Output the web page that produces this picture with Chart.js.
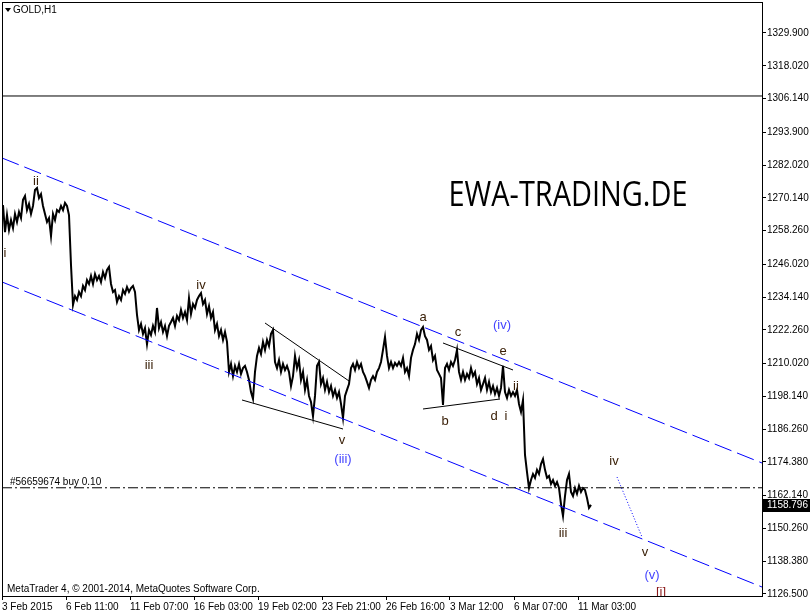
<!DOCTYPE html>
<html>
<head>
<meta charset="utf-8">
<title>GOLD,H1</title>
<script src="https://cdn.jsdelivr.net/npm/chart.js@4.4.1/dist/chart.umd.min.js"></script>
<style>
  html, body { margin: 0; padding: 0; background: #fff; }
  canvas { display: block; }
</style>
</head>
<body>
<canvas id="goldChart" width="810" height="616"></canvas>
<script>
// H1 closes, one value every 2 bars (bar 1, 3, 5, ...)
const closes = [
  1267.5, 1257.7, 1263.9, 1258.5, 1262.1, 1259.2, 1264.3, 1261.4, 1265.0, 1262.8,
  1269.4, 1270.8, 1265.7, 1267.9, 1264.3, 1267.2, 1273.0, 1273.7, 1270.1, 1271.5,
  1267.2, 1264.3, 1261.4, 1262.8, 1256.3, 1264.3, 1262.1, 1265.7, 1265.0, 1267.2,
  1265.7, 1268.3, 1267.2, 1263.9, 1245.8, 1231.3, 1234.5, 1233.1, 1236.0, 1234.5,
  1238.2, 1236.7, 1240.3, 1238.9, 1241.8, 1238.9, 1242.5, 1240.3, 1241.8, 1239.6,
  1243.2, 1241.1, 1244.0, 1245.1, 1238.9, 1236.0, 1236.7, 1232.4, 1234.5, 1233.1,
  1236.7, 1235.3, 1237.8, 1236.0, 1237.4, 1238.2, 1236.0, 1227.7, 1222.2, 1224.4,
  1220.8, 1222.9, 1217.1, 1222.2, 1220.4, 1223.7, 1221.5, 1230.2, 1222.9, 1225.1,
  1221.5, 1223.7, 1220.0, 1223.7, 1225.1, 1226.6, 1223.7, 1227.3, 1225.8, 1229.5,
  1226.6, 1228.7, 1225.8, 1233.8, 1228.0, 1231.6, 1230.2, 1233.1, 1234.5, 1235.6,
  1231.6, 1233.1, 1228.0, 1230.9, 1226.6, 1228.7, 1222.2, 1224.4, 1220.0, 1222.2,
  1218.6, 1221.5, 1217.9, 1207.0, 1209.9, 1205.5, 1209.2, 1207.0, 1209.9, 1206.3,
  1208.4, 1209.2, 1207.0, 1204.1, 1199.7, 1197.2, 1207.0, 1212.8, 1215.7, 1213.5,
  1217.9, 1215.0, 1218.6, 1216.4, 1220.8, 1222.2, 1210.6, 1208.4, 1211.3, 1207.0,
  1209.9, 1207.7, 1209.2, 1207.0, 1201.9, 1205.5, 1212.8, 1208.4, 1211.3, 1204.1,
  1207.0, 1200.5, 1204.1, 1198.3, 1196.1, 1191.0, 1198.3, 1209.2, 1210.6, 1202.6,
  1204.8, 1200.5, 1203.4, 1199.7, 1201.9, 1198.3, 1200.5, 1197.6, 1199.7, 1195.4,
  1190.3, 1198.3, 1200.5, 1202.6, 1208.4, 1209.9, 1207.7, 1210.6, 1208.4, 1209.9,
  1207.0, 1205.5, 1203.4, 1201.2, 1204.1, 1205.5, 1204.1, 1207.0, 1208.4, 1210.6,
  1215.0, 1219.7, 1212.8, 1208.4, 1210.6, 1208.4, 1210.3, 1209.2, 1210.6, 1209.2,
  1212.1, 1207.0, 1208.4, 1205.5, 1212.1, 1215.0, 1217.1, 1220.8, 1218.6, 1222.2,
  1223.3, 1220.0, 1218.6, 1215.0, 1216.4, 1211.3, 1212.8, 1207.7, 1206.3, 1204.8,
  1195.0, 1208.4, 1209.9, 1207.7, 1210.6, 1209.2, 1211.3, 1215.0, 1207.0, 1204.1,
  1207.0, 1204.1, 1206.3, 1204.8, 1208.4, 1205.5, 1207.0, 1202.6, 1204.8, 1200.5,
  1202.6, 1204.8, 1200.5, 1203.4, 1199.7, 1201.9, 1199.0, 1201.2, 1198.3, 1201.2,
  1209.2, 1199.7, 1197.6, 1200.5, 1198.3, 1199.7, 1198.3, 1200.5, 1195.4, 1192.5,
  1196.8, 1176.9, 1170.7, 1164.9, 1167.8, 1170.0, 1168.6, 1171.5, 1170.0, 1173.6,
  1175.4, 1171.5, 1168.6, 1169.3, 1166.4, 1167.8, 1165.7, 1167.1, 1164.9, 1159.1,
  1154.8, 1162.0, 1167.8, 1170.0, 1163.5, 1162.0, 1164.9, 1162.8, 1165.7, 1163.5,
  1164.9, 1164.2, 1161.3, 1157.7, 1158.796
];

const timeTickBars = [0, 64, 128, 192, 256, 320, 384, 448, 512, 576];
const timeLabels = [
  "3 Feb 2015", "6 Feb 11:00", "11 Feb 07:00", "16 Feb 03:00", "19 Feb 02:00",
  "23 Feb 21:00", "26 Feb 16:00", "3 Mar 12:00", "6 Mar 07:00", "11 Mar 03:00"
];
const priceTicks = [
  1329.9, 1318.02, 1306.14, 1293.9, 1282.02, 1270.14, 1258.26, 1246.02, 1234.14,
  1222.26, 1210.02, 1198.14, 1186.26, 1174.38, 1162.14, 1150.26, 1138.38, 1126.5
];

// drawn objects, as [bar, price] pairs
const channelUpper = [[0, 1284.58], [760, 1173.99]];
const channelLower = [[0, 1239.62], [760, 1129.02]];
const wedgeUpper = [[263, 1224.75], [347, 1203.72]];
const wedgeLower = [[240, 1196.83], [341, 1186.31]];
const triangleUpper = [[441, 1217.5], [511, 1207.71]];
const triangleLower = [[421, 1193.57], [498, 1197.19]];
const projection = [[615, 1168.91], [640, 1147.15]];
const topLine = [[0, 1307.06], [760, 1307.06]];
const orderLine = [[0, 1165.0], [760, 1165.0]];
const orderText = "#56659674 buy 0.10";

// wave labels: [text, bar, price]
const minorLabels = [
  ["ii", 34, 1276.2], ["i", 3, 1250.1], ["iv", 199, 1238.5], ["iii", 147, 1209.2],
  ["v", 340, 1182.3], ["a", 421, 1226.6], ["c", 456, 1221.5], ["e", 501, 1214.6],
  ["ii", 514, 1201.9], ["b", 443, 1188.9], ["d", 492, 1190.7], ["i", 504, 1190.7],
  ["iii", 561, 1148.6], ["iv", 612, 1174.4], ["v", 643, 1141.4]
];
const intermediateLabels = [
  ["(ii)", -6, 1288.2], ["(iii)", 341, 1175.4], ["(iv)", 500, 1223.7], ["(v)", 650, 1133.4]
];
const primaryLabels = [["[i]", 659, 1126.9]];
const watermark = ["EWA-TRADING.DE", 566, 1270.8];

const lastPrice = closes[closes.length - 1];

function toPoints(pairs) {
  return pairs.map((p) => ({ x: p[0], y: p[1] }));
}

function lineSet(pairs, color, dash, width) {
  return {
    data: toPoints(pairs),
    borderColor: color,
    borderWidth: width || 1,
    borderDash: dash || [],
    pointRadius: 0,
    tension: 0,
    fill: false,
  };
}

const overlayPlugin = {
  id: "overlay",
  afterDatasetsDraw(chart) {
    const { ctx, chartArea: area, scales } = chart;
    const xs = scales.x;
    const ys = scales.y;
    ctx.save();
    ctx.beginPath();
    ctx.rect(area.left, area.top, area.right - area.left, area.bottom - area.top);
    ctx.clip();
    ctx.textAlign = "center";
    ctx.textBaseline = "middle";
    ctx.font = "13px 'Liberation Sans', Arial, sans-serif";

    const drawLabels = (list, color) => {
      ctx.fillStyle = color;
      list.forEach((l) => {
        ctx.fillText(l[0], xs.getPixelForValue(l[1]), ys.getPixelForValue(l[2]));
      });
    };
    drawLabels(minorLabels, "#3a2008");
    drawLabels(intermediateLabels, "#4444ff");
    drawLabels(primaryLabels, "#8b1a1a");

    // big text
    ctx.font = "34px 'Open Sans', sans-serif";
    const wx = xs.getPixelForValue(watermark[1]);
    const wy = ys.getPixelForValue(watermark[2]);
    const w = ctx.measureText(watermark[0]).width;
    ctx.save();
    ctx.translate(wx, wy);
    ctx.scale(239 / w, 1);
    ctx.fillStyle = "#000";
    ctx.fillText(watermark[0], 0, 0);
    ctx.restore();

    // order line caption
    ctx.font = "10px 'Liberation Sans', Arial, sans-serif";
    ctx.textAlign = "left";
    ctx.textBaseline = "bottom";
    ctx.fillStyle = "#000";
    ctx.fillText(orderText, area.left + 8, ys.getPixelForValue(orderLine[0][1]) - 1);
    ctx.restore();
  },
  afterDraw(chart) {
    const { ctx, chartArea: area, scales } = chart;
    ctx.save();
    ctx.strokeStyle = "#000";
    ctx.lineWidth = 1;
    ctx.strokeRect(area.left + 0.5, area.top + 0.5, area.right - area.left, area.bottom - area.top);

    // header
    ctx.fillStyle = "#000";
    ctx.beginPath();
    ctx.moveTo(area.left + 3, area.top + 6);
    ctx.lineTo(area.left + 9, area.top + 6);
    ctx.lineTo(area.left + 6, area.top + 10);
    ctx.closePath();
    ctx.fill();
    ctx.font = "10px 'Liberation Sans', Arial, sans-serif";
    ctx.textBaseline = "middle";
    ctx.textAlign = "left";
    ctx.fillText("GOLD,H1", area.left + 11, area.top + 8);

    ctx.fillText("MetaTrader 4, \u00a9 2001-2014, MetaQuotes Software Corp.", area.left + 5, area.bottom - 7);

    // current price box
    const py = Math.round(scales.y.getPixelForValue(lastPrice));
    ctx.fillRect(area.right + 1, py - 6, 47, 13);
    ctx.fillStyle = "#fff";
    ctx.fillText(lastPrice.toFixed(3), area.right + 5, py + 0.5);
    ctx.restore();
  },
};

const axisFont = { family: "'Liberation Sans', Arial, sans-serif", size: 10 };

new Chart(document.getElementById("goldChart"), {
  type: "line",
  data: {
    datasets: [
      lineSet(topLine, "#000"),
      lineSet(orderLine, "#000", [10, 3, 2, 3]),
      lineSet(channelUpper, "#0000ff", [18, 6]),
      lineSet(channelLower, "#0000ff", [18, 6]),
      lineSet(projection, "#0000ff", [1, 2]),
      lineSet(wedgeUpper, "#000"),
      lineSet(wedgeLower, "#000"),
      lineSet(triangleUpper, "#000"),
      lineSet(triangleLower, "#000"),
      {
        data: closes.map((v, i) => ({ x: 1 + 2 * i, y: v })),
        borderColor: "#000",
        borderWidth: 2,
        pointRadius: 0,
        tension: 0,
        fill: false,
      },
    ],
  },
  options: {
    responsive: false,
    animation: false,
    layout: { padding: { left: 2, top: 2, right: 0, bottom: 0 } },
    plugins: {
      legend: { display: false },
      tooltip: { enabled: false },
    },
    scales: {
      x: {
        type: "linear",
        min: 0,
        max: 760,
        grid: { drawOnChartArea: false, drawTicks: true, tickLength: 4, color: "#000" },
        border: { display: true, color: "#000" },
        afterBuildTicks: (scale) => {
          scale.ticks = timeTickBars.map((v) => ({ value: v }));
        },
        afterFit: (scale) => {
          scale.height = 20;
          scale.paddingLeft = 0;
          scale.paddingRight = 0;
        },
        ticks: {
          autoSkip: false,
          maxRotation: 0,
          align: "start",
          padding: 1,
          color: "#000",
          font: axisFont,
          callback: (v, i) => timeLabels[i],
        },
      },
      y: {
        type: "linear",
        position: "right",
        min: 1125.76,
        max: 1341.14,
        grid: { drawOnChartArea: false, drawTicks: true, tickLength: 4, color: "#000" },
        border: { display: true, color: "#000" },
        afterBuildTicks: (scale) => {
          scale.ticks = priceTicks.map((v) => ({ value: v }));
        },
        afterFit: (scale) => {
          scale.width = 48;
          scale.paddingTop = 0;
          scale.paddingBottom = 0;
        },
        ticks: {
          padding: 1,
          color: "#000",
          font: axisFont,
          callback: (v) => v.toFixed(3),
        },
      },
    },
  },
  plugins: [overlayPlugin],
});
</script>
</body>
</html>
